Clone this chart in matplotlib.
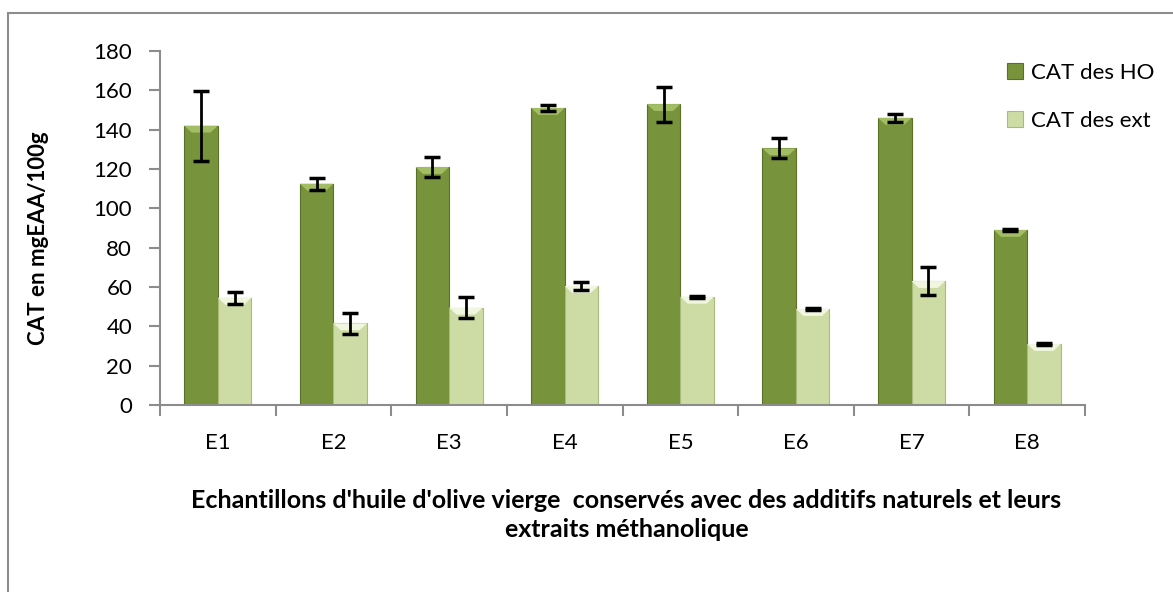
import matplotlib.pyplot as plt
import numpy as np
from matplotlib.patches import Polygon, Rectangle

plt.rcParams['font.family'] = ['Lato', 'DejaVu Sans']

# Données
echantillons = ["E1", "E2", "E3", "E4", "E5", "E6", "E7", "E8"]
cat_ho = [142, 112.5, 121, 151, 153, 130.5, 146, 89]
err_ho = [17.8, 3.1, 5.3, 1.7, 8.9, 5.1, 2.2, 0.3]
cat_ext = [54.5, 41.5, 49.5, 60.5, 55, 48.8, 63, 31]
err_ext = [3.1, 5.5, 5.2, 1.8, 0.4, 0.4, 7.3, 0.5]

fig = plt.figure(figsize=(11.73, 5.92), dpi=100)
ax = fig.add_axes([0.1364, 0.3159, 0.7886, 0.598])

# cadre du graphique
fig.patches.append(Rectangle((8 / 1173, -0.05), 1.2, 1 - 13 / 592 + 0.05,
                             transform=fig.transFigure, fill=False,
                             edgecolor="#8c8c8c", linewidth=1.5))

x = np.arange(len(echantillons))
w = 0.29

bars_ho = ax.bar(x - w / 2, cat_ho, w, color="#77933c", edgecolor="#5a7029",
                 linewidth=0.8, label="CAT des HO", zorder=2)
bars_ext = ax.bar(x + w / 2, cat_ext, w, color="#cddca4", edgecolor="#a8bb7c",
                  linewidth=0.8, label="CAT des ext", zorder=2)

# petit effet de biseau en haut des barres
for bars, light in [(bars_ho, "#a3bd64"), (bars_ext, "#f0f6df")]:
    for b in bars:
        x0, h, bw = b.get_x(), b.get_height(), b.get_width()
        d = 3.5
        ax.add_patch(Polygon([(x0, h), (x0 + bw, h), (x0 + bw * 0.78, h - d), (x0 + bw * 0.22, h - d)],
                             closed=True, facecolor=light, edgecolor="none", zorder=3))

ax.errorbar(x - w / 2, cat_ho, yerr=err_ho, fmt="none", ecolor="black",
            elinewidth=2, capsize=6, capthick=2.5, zorder=4)
ax.errorbar(x + w / 2, cat_ext, yerr=err_ext, fmt="none", ecolor="black",
            elinewidth=2, capsize=6, capthick=2.5, zorder=4)

ax.set_xlim(-0.5, len(echantillons) - 0.5)
ax.set_ylim(0, 180)
ax.set_yticks(range(0, 181, 20))
ax.set_xticks(x)
ax.set_xticklabels(echantillons)
ax.set_xticks(np.arange(-0.5, len(echantillons), 1), minor=True)

for s in ["top", "right"]:
    ax.spines[s].set_visible(False)
for s in ["left", "bottom"]:
    ax.spines[s].set_color("#8c8c8c")
    ax.spines[s].set_linewidth(1.5)

ax.tick_params(axis="y", labelsize=16, length=8, width=1.5, color="#8c8c8c", pad=12)
ax.tick_params(axis="x", which="major", labelsize=16, length=0, pad=20)
ax.tick_params(axis="x", which="minor", length=8, width=1.5, color="#8c8c8c")

ax.set_ylabel("CAT en mgEAA/100g", fontsize=16, fontweight="bold")
ax.yaxis.set_label_coords(-0.12, 0.47)
fig.text(0.534, 0.13, "Echantillons d'huile d'olive vierge  conservés avec des additifs naturels et leurs\nextraits méthanolique",
         ha="center", va="center", fontsize=18, fontweight="bold", linespacing=1.3)

ax.legend(loc="upper left", bbox_to_anchor=(0.894, 1.023), frameon=False,
          fontsize=16, handlelength=0.7, handleheight=0.7, handletextpad=0.4,
          labelspacing=1.25)

fig.savefig("out.png", dpi=100)
